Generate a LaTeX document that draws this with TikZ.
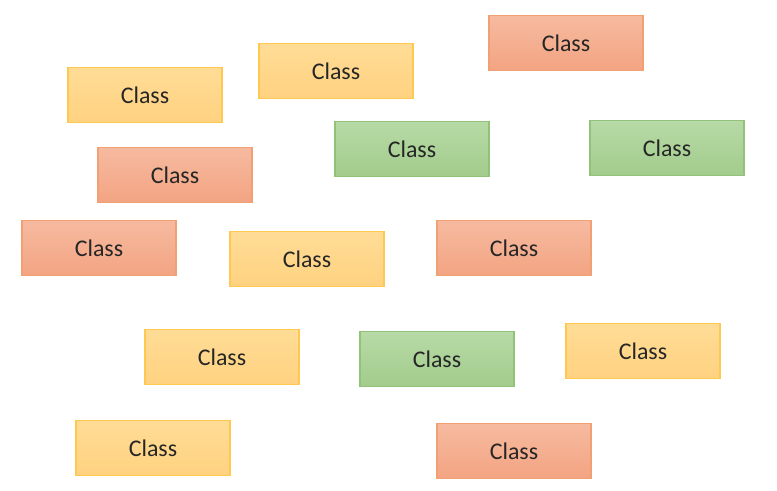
\documentclass[tikz,border=0pt]{standalone}
\usepackage{fontspec}
\setmainfont{Carlito}
\usepackage{tikz}

\tikzset{
  classbox/.style={draw, line width=0.9pt, minimum width=3.85cm, minimum height=1.38cm,
    inner sep=0pt, font=\fontsize{17}{20}\selectfont, text=black!85},
  redbox/.style={classbox, draw={rgb,255:red,240;green,160;blue,115},
    top color={rgb,255:red,246;green,186;blue,160}, bottom color={rgb,255:red,243;green,164;blue,130}},
  greenbox/.style={classbox, draw={rgb,255:red,146;green,194;blue,122},
    top color={rgb,255:red,183;green,218;blue,166}, bottom color={rgb,255:red,162;green,204;blue,140}},
  yellowbox/.style={classbox, draw={rgb,255:red,255;green,200;blue,80},
    top color={rgb,255:red,255;green,220;blue,150}, bottom color={rgb,255:red,255;green,210;blue,128}}
}

\begin{document}
\begin{tikzpicture}[x=0.025cm,y=-0.025cm]
    \useasboundingbox (0,0) rectangle (777,491);
    % top row
    \node[yellowbox] (y1) at (145,95) {Class};
    \node[yellowbox] (y2) at (336,71) {Class};
    \node[redbox]    (r1) at (566,43) {Class};
    % second row
    \node[redbox]    (r2) at (175,175) {Class};
    \node[greenbox]  (g1) at (412,149) {Class};
    \node[greenbox]  (g2) at (667,148) {Class};
    % middle row
    \node[redbox]    (r3) at (99,248) {Class};
    \node[yellowbox] (y3) at (307,259) {Class};
    \node[redbox]    (r4) at (514,248) {Class};
    % lower row
    \node[yellowbox] (y4) at (222,357) {Class};
    \node[greenbox]  (g3) at (437,359) {Class};
    \node[yellowbox] (y5) at (643,351) {Class};
    % bottom row
    \node[yellowbox] (y6) at (153,448) {Class};
    \node[redbox]    (r5) at (514,451) {Class};
\end{tikzpicture}
\end{document}
